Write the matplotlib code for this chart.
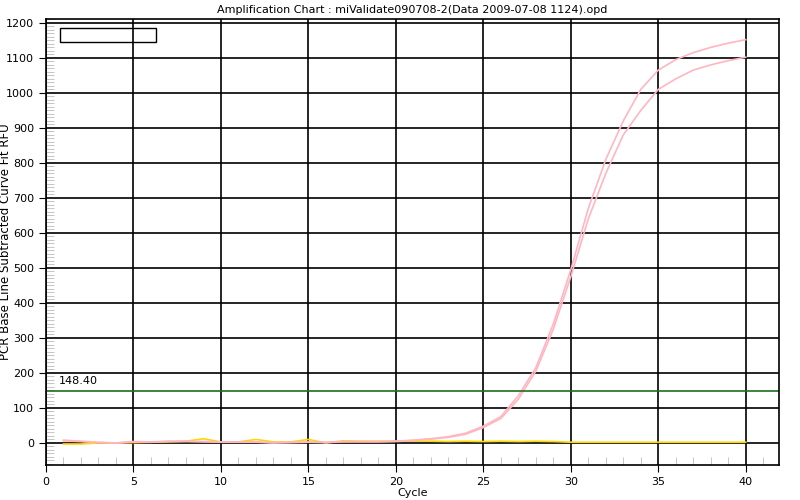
import numpy as np
import matplotlib.pyplot as plt
from matplotlib.ticker import MultipleLocator
from matplotlib.patches import Rectangle

cycles = list(range(1, 41))

# upper pink curve
well_a = [8, 5, 2, 0, 4, 3, 5, 5, 4, 3, 3, 3, 1, 2, 3, 2, 4, 4, 4, 5,
          8, 12, 18, 28, 48, 75, 135, 215, 340, 495, 670, 810, 920, 1010, 1065,
          1095, 1115, 1130, 1142, 1152]
# lower pink curve
well_b = [6, 4, 1, 0, 3, 2, 4, 4, 3, 2, 2, 2, 0, 1, 2, 1, 3, 3, 3, 4,
          7, 11, 16, 25, 44, 70, 125, 205, 325, 475, 640, 770, 880, 950, 1010,
          1040, 1065, 1080, 1092, 1102]
# yellow baseline wells
well_c = [-3, -3, 0, 0, 1, 2, 3, 5, 12, 3, 3, 10, 3, 3, 10, 0, 6, 5, 5, 5,
          5, 5, 4, 5, 4, 5, 4, 5, 4, 2, 2, 2, 2, 2, 2, 2, 2, 2, 2, 2]

threshold = 148.40

fig = plt.figure(figsize=(8, 5), dpi=100)
ax = fig.add_axes([46 / 800, 35 / 500, 733 / 800, 446 / 500])

ax.set_xlim(0, 41.9)
ax.set_ylim(-63, 1211)

ax.xaxis.set_major_locator(MultipleLocator(5))
ax.xaxis.set_minor_locator(MultipleLocator(1))
ax.yaxis.set_major_locator(MultipleLocator(100))
ax.yaxis.set_minor_locator(MultipleLocator(10))
ax.grid(True, which='major', color='black', linewidth=1.2)
ax.tick_params(which='major', direction='out', length=5, color='black', labelsize=8)
ax.tick_params(which='minor', direction='in', length=6, color='#bbbbbb')
for s in ax.spines.values():
    s.set_linewidth(1.2)

ax.plot(cycles, well_c, color='#ffd700', linewidth=1.2)
ax.plot(cycles, well_a, color='#ffb6c1', linewidth=1.2)
ax.plot(cycles, well_b, color='#ffb6c1', linewidth=1.2)
ax.axhline(threshold, color='#1e6e1e', linewidth=1.2)
ax.text(0.75, threshold + 20, '%.2f' % threshold, fontsize=8)

ax.add_patch(Rectangle((0.8, 1145), 5.5, 40, fill=False, edgecolor='black', linewidth=1))

ax.set_xlabel('Cycle', fontsize=8, labelpad=1)
ax.set_ylabel('PCR Base Line Subtracted Curve Fit RFU', fontsize=8.5)
ax.yaxis.set_label_coords(-0.047, 0.5)
ax.set_title('Amplification Chart : miValidate090708-2(Data 2009-07-08 1124).opd', fontsize=8, pad=4)

fig.savefig('out.png', dpi=100)
